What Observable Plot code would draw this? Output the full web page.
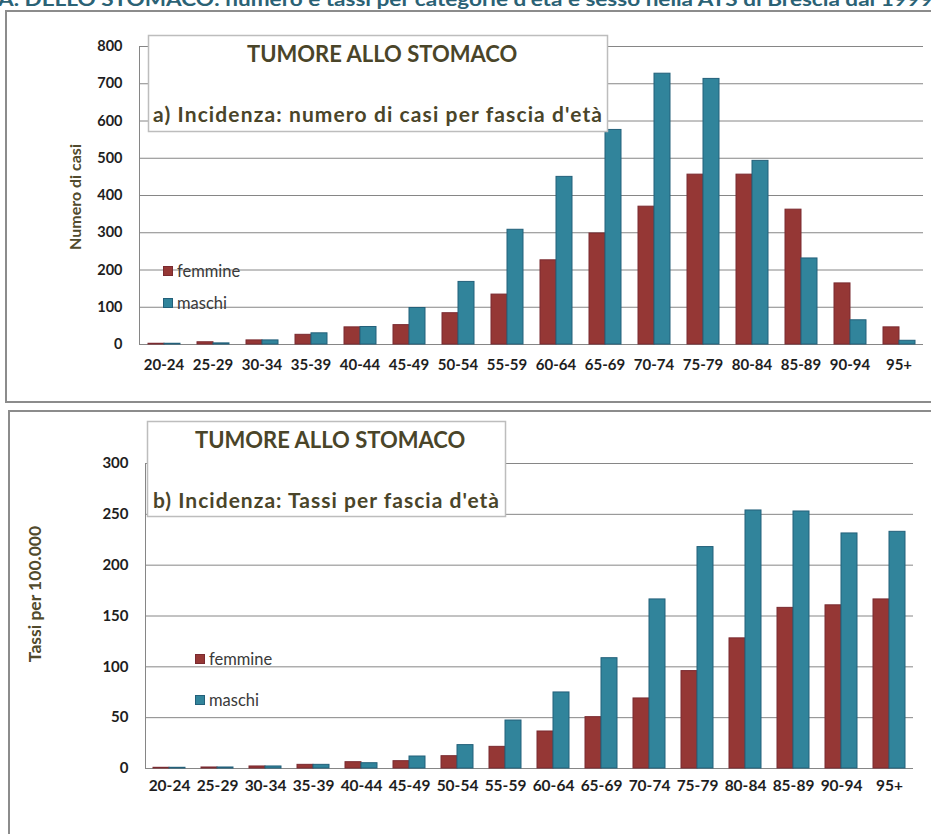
<!DOCTYPE html>
<html>
<head>
<meta charset="utf-8">
<script src="https://cdn.jsdelivr.net/npm/d3@7"></script>
<script src="https://cdn.jsdelivr.net/npm/@observablehq/plot@0.6"></script>
<style>
  body { margin: 0; background: #ffffff; }
  #root { position: relative; width: 931px; height: 834px; overflow: hidden; background: #fff; font-family: Lato, "Open Sans", sans-serif; }
  .chart { position: absolute; left: 0; }
  #overlay { position: absolute; left: 0; top: 0; pointer-events: none; }
</style>
</head>
<body>
<div id="root">
  <div id="c1" class="chart" style="top:0px"></div>
  <div id="c2" class="chart" style="top:400px"></div>
  <svg id="overlay" width="931" height="834" font-family="Lato, 'Open Sans', sans-serif">
    <text x="-2" y="5.5" font-size="19" font-weight="bold" fill="#2b6275" textLength="935" lengthAdjust="spacingAndGlyphs">A. DELLO STOMACO: numero e tassi per categorie d'età e sesso nella ATS di Brescia dal 1999</text>
    <rect x="6" y="11" width="1000" height="391" fill="none" stroke="#8c8c8c" stroke-width="2"/>
    <rect x="9" y="411" width="1000" height="1000" fill="none" stroke="#8c8c8c" stroke-width="2"/>

    <rect x="148.5" y="35.5" width="459" height="96" fill="#ffffff" stroke="#bdbdbd" stroke-width="1.5"/>
    <text x="247" y="62" font-size="22" font-weight="bold" fill="#4a4529">TUMORE ALLO STOMACO</text>
    <text x="153" y="122" font-size="21" font-weight="bold" fill="#4a4529" textLength="449">a) Incidenza: numero di casi per fascia d'età</text>

    <rect x="147.5" y="421.5" width="358" height="95" fill="#ffffff" stroke="#bdbdbd" stroke-width="1.5"/>
    <text x="195" y="448" font-size="22" font-weight="bold" fill="#4a4529">TUMORE ALLO STOMACO</text>
    <text x="153" y="508" font-size="21" font-weight="bold" fill="#4a4529" textLength="346">b) Incidenza: Tassi per fascia d'età</text>

    <text transform="translate(80.5,197) rotate(-90)" text-anchor="middle" font-size="16" font-weight="bold" fill="#514a2c">Numero di casi</text>
    <text transform="translate(41,594) rotate(-90)" text-anchor="middle" font-size="17.5" font-weight="bold" fill="#514a2c">Tassi per 100.000</text>

    <rect x="163.5" y="266.5" width="9" height="9" fill="#953735" stroke="#7a2a30"/>
    <text x="177" y="276.5" font-size="16.5" fill="#3a3a3a">femmine</text>
    <rect x="163.5" y="298.5" width="9" height="9" fill="#31849b" stroke="#23607a"/>
    <text x="177" y="308.5" font-size="16.5" fill="#3a3a3a">maschi</text>

    <rect x="195.5" y="654.5" width="9" height="9" fill="#953735" stroke="#7a2a30"/>
    <text x="209" y="665" font-size="16.5" fill="#3a3a3a">femmine</text>
    <rect x="195.5" y="695.5" width="9" height="9" fill="#31849b" stroke="#23607a"/>
    <text x="209" y="706" font-size="16.5" fill="#3a3a3a">maschi</text>
  </svg>
</div>
<script>
// ---- data ----
const ages = ["20-24","25-29","30-34","35-39","40-44","45-49","50-54","55-59","60-64","65-69","70-74","75-79","80-84","85-89","90-94","95+"];
const sessi = ["femmine", "maschi"];
const casiFemmine = [2, 6, 11, 26, 46, 52, 84, 134, 226, 298, 370, 456, 456, 362, 164, 46];
const casiMaschi  = [2, 3, 11, 30, 47, 98, 168, 308, 450, 576, 727, 713, 493, 231, 65, 10];
const tassiFemmine = [0.7, 1, 2, 3.6, 6.2, 7.2, 12.1, 21.3, 36.4, 50.5, 68.9, 95.8, 128, 158, 160.5, 166.3];
const tassiMaschi  = [0.7, 1, 2, 3.6, 5.2, 11.8, 23, 47.2, 74.8, 108.5, 166.3, 217.8, 253.8, 252.8, 231.2, 232.8];
const casiTicks = [0, 100, 200, 300, 400, 500, 600, 700, 800];
const tassiTicks = [0, 50, 100, 150, 200, 250, 300];
const fillColors = { femmine: "#953735", maschi: "#31849b" };
const strokeColors = { femmine: "#7a2a30", maschi: "#23607a" };

function rows(f, m) {
  return ages.flatMap((a, i) => [
    { age: a, sesso: "femmine", v: f[i] },
    { age: a, sesso: "maschi", v: m[i] }
  ]);
}

function chart({ data, ticks, height, mL, mR, mT, mB, fsX, fsY, xPad, yPad }) {
  const marks = [
    Plot.gridY(ticks.slice(1), { stroke: "#868686", strokeOpacity: 1 }),
    Plot.ruleY([0], { stroke: "#868686" })
  ];
  for (const s of sessi) {
    marks.push(Plot.barY(data.filter(d => d.sesso === s), {
      fx: "age", x: "sesso", y: "v",
      fill: fillColors[s], stroke: strokeColors[s], strokeWidth: 1
    }));
  }
  marks.push(
    Plot.axisY({ ticks, tickSize: 0, tickPadding: yPad, label: null, fontSize: fsY }),
    Plot.axisFx({ anchor: "bottom", tickSize: 0, tickPadding: xPad, label: null, fontSize: fsX }),
    Plot.frame({ anchor: "left", facetAnchor: "left", stroke: "#868686" })
  );
  return Plot.plot({
    width: 931, height,
    marginLeft: mL, marginRight: mR, marginTop: mT, marginBottom: mB,
    style: { fontFamily: "Lato, 'Open Sans', sans-serif", fontWeight: "bold", color: "#1e1e1e", background: "transparent" },
    fx: { domain: ages, padding: 0 },
    x: { domain: sessi, paddingInner: 0, paddingOuter: 0.5, axis: null },
    y: { domain: [0, ticks[ticks.length - 1]] },
    marks
  });
}

document.getElementById("c1").append(chart({
  data: rows(casiFemmine, casiMaschi), ticks: casiTicks,
  height: 400, mL: 134, mR: 4, mT: 46, mB: 56, fsX: 15, fsY: 14.5, xPad: 15, yPad: 17
}));
document.getElementById("c2").append(chart({
  data: rows(tassiFemmine, tassiMaschi), ticks: tassiTicks,
  height: 434, mL: 139, mR: 13, mT: 63, mB: 66, fsX: 15.5, fsY: 15, xPad: 11, yPad: 17
}));
</script>
</body>
</html>
